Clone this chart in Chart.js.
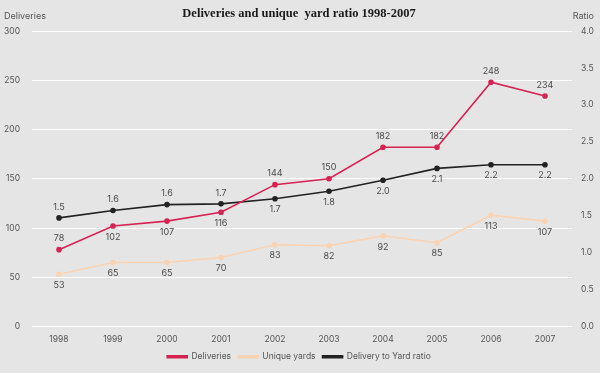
<!DOCTYPE html>
<html>
<head>
<meta charset="utf-8">
<script src="https://cdn.jsdelivr.net/npm/chart.js@4"></script>
<style>
  html, body { margin: 0; padding: 0; background: #e5e5e5; }
  #wrap { width: 600px; height: 373px; }
</style>
</head>
<body>
<div id="wrap"><canvas id="chart"></canvas></div>
<script>
const years = ['1998', '1999', '2000', '2001', '2002', '2003', '2004', '2005', '2006', '2007']
const deliveries = [78, 102, 107, 116, 144, 150, 182, 182, 248, 234]
const uniqueYards = [53, 65, 65, 70, 83, 82, 92, 85, 113, 107]
const ratio = [1.47, 1.57, 1.65, 1.66, 1.73, 1.83, 1.98, 2.14, 2.19, 2.19]

// label side for each point: -1 above, 1 below
const deliveriesSide = [-1, 1, 1, 1, -1, -1, -1, -1, -1, -1]
const yardsSide = [1, 1, 1, 1, 1, 1, 1, 1, 1, 1]
const ratioSide = [-1, -1, -1, -1, 1, 1, 1, 1, 1, 1]

const font = 'Inter, "Noto Sans", sans-serif'

const pointLabels = {
    id: 'pointLabels',
    afterDatasetsDraw(chart) {
        const c = chart.ctx
        c.save()
        c.font = '9px ' + font
        c.fillStyle = '#4a4a4a'
        c.textAlign = 'center'
        c.textBaseline = 'middle'
        chart.data.datasets.forEach((ds, i) => {
            const meta = chart.getDatasetMeta(i)
            meta.data.forEach((pt, j) => {
                const side = ds.labelSide[j]
                const txt = ds.yAxisID === 'y1' ? ds.data[j].toFixed(1) : String(ds.data[j])
                c.fillText(txt, pt.x, pt.y + side * 11)
            })
        })
        c.restore()
    }
}

const axisTitles = {
    id: 'axisTitles',
    afterDraw(chart) {
        const c = chart.ctx
        c.save()
        c.font = '9px ' + font
        c.fillStyle = '#555'
        c.textBaseline = 'middle'
        c.textAlign = 'left'
        c.fillText('Deliveries', 4, 16)
        c.textAlign = 'right'
        c.fillText('Ratio', 594, 16)
        c.restore()
    }
}

new Chart(document.getElementById('chart'), {
    type: 'line',
    data: {
        labels: years,
        datasets: [{
            label: 'Deliveries',
            data: deliveries,
            labelSide: deliveriesSide,
            yAxisID: 'y',
            borderColor: '#d62352',
            backgroundColor: '#d62352',
            borderWidth: 1.6,
            pointRadius: 2,
            tension: 0
        }, {
            label: 'Unique yards',
            data: uniqueYards,
            labelSide: yardsSide,
            yAxisID: 'y',
            borderColor: '#fcd3b2',
            backgroundColor: '#fcd3b2',
            borderWidth: 1.6,
            pointRadius: 2,
            tension: 0
        }, {
            label: 'Delivery to Yard ratio',
            data: ratio,
            labelSide: ratioSide,
            yAxisID: 'y1',
            borderColor: '#222222',
            backgroundColor: '#222222',
            borderWidth: 1.6,
            pointRadius: 2,
            tension: 0
        }]
    },
    options: {
        responsive: true,
        maintainAspectRatio: false,
        animation: false,
        layout: { padding: { left: 4, right: 6, top: 4, bottom: 2 } },
        plugins: {
            title: {
                display: true,
                text: 'Deliveries and unique  yard ratio 1998-2007',
                font: { family: '"Liberation Serif", serif', size: 12.5, weight: 'bold' },
                color: '#1a1a1a',
                padding: { top: 2, bottom: 10 }
            },
            legend: {
                position: 'bottom',
                labels: {
                    font: { family: font, size: 8.5 },
                    color: '#555',
                    boxWidth: 20,
                    boxHeight: 2,
                    padding: 7
                }
            },
            tooltip: { enabled: false }
        },
        scales: {
            x: {
                offset: true,
                afterFit: s => { s.height = 19 },
                grid: { display: false, drawTicks: false },
                border: { display: false },
                ticks: { font: { family: font, size: 8.5 }, color: '#555', padding: 8 }
            },
            y: {
                position: 'left',
                min: 0,
                max: 300,
                afterFit: s => { s.width = 28 },
                grid: { color: '#ffffff', lineWidth: 1, drawTicks: false },
                border: { display: false },
                ticks: { stepSize: 50, font: { family: font, size: 8.5 }, color: '#555', padding: 12 }
            },
            y1: {
                position: 'right',
                min: 0,
                max: 4,
                afterFit: s => { s.width = 22 },
                grid: { display: false, drawTicks: false },
                border: { display: false },
                ticks: {
                    stepSize: 0.5,
                    font: { family: font, size: 8.5 },
                    color: '#555',
                    padding: 9,
                    callback: v => v.toFixed(1)
                }
            }
        }
    },
    plugins: [pointLabels, axisTitles]
})
</script>
</body>
</html>
